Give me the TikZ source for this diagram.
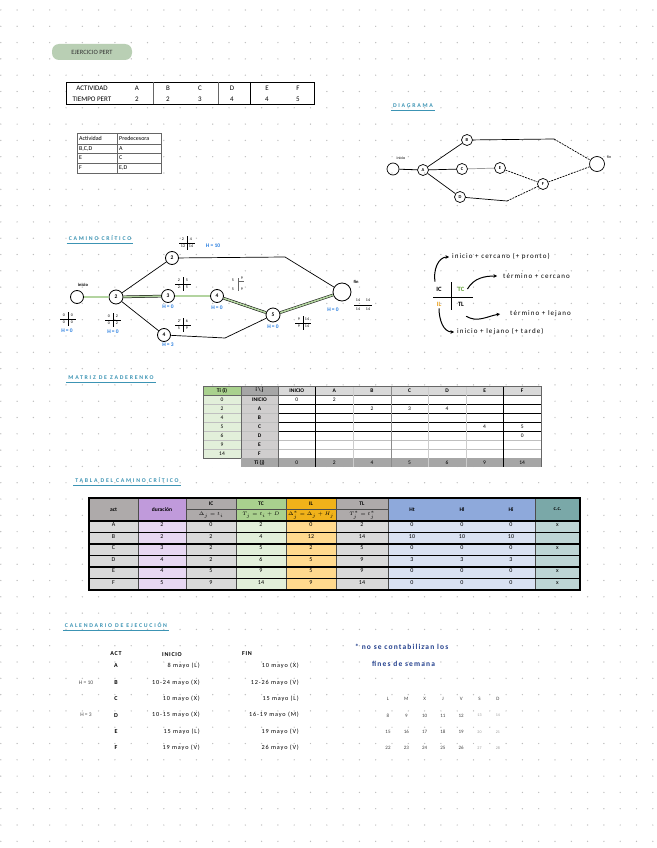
\documentclass[tikz,border=0pt]{standalone}
\usepackage{fontspec}
\setmainfont{Carlito}
\usetikzlibrary{positioning,arrows.meta,calc}

\definecolor{dotgray}{HTML}{BDBDBD}
\definecolor{pillgreen}{HTML}{B9CFB4}
\definecolor{headblue}{HTML}{3C94B4}
\definecolor{hblue}{HTML}{2A7FE0}
\definecolor{critgreen}{HTML}{B3D4A0}
\definecolor{tcgreen}{HTML}{5E9E32}
\definecolor{ilorange}{HTML}{E8A020}
\definecolor{noteblue}{HTML}{23408E}
\definecolor{zgreenh}{HTML}{A9D18E}
\definecolor{zgreenl}{HTML}{E2EFDA}
\definecolor{zgreyh}{HTML}{A6A6A6}
\definecolor{zgreyl}{HTML}{D0CECE}
\definecolor{zhead}{HTML}{D9D9D9}
\definecolor{actg}{HTML}{AEAAAA}
\definecolor{actl}{HTML}{D9D9D9}
\definecolor{durp}{HTML}{C09ADB}
\definecolor{durl}{HTML}{E7D7F2}
\definecolor{tcg}{HTML}{A9D08E}
\definecolor{tcl}{HTML}{E2EFDA}
\definecolor{ilo}{HTML}{F0B21A}
\definecolor{ill}{HTML}{FFD98E}
\definecolor{hbl}{HTML}{8EA9DB}
\definecolor{hbll}{HTML}{D9E1F2}
\definecolor{ccg}{HTML}{7AA8A8}
\definecolor{ccl}{HTML}{BDD5D5}

% heading with underline
\newcommand{\notehead}[3]{%
  \node[heading] (#1) at (#2) {#3};
  \draw[headblue, line width=0.8pt] ([xshift=-2pt,yshift=-2.5pt]#1.south west) -- ([xshift=2pt,yshift=-2.5pt]#1.south east);}

% IC TC / IL TL cross
\newcommand{\pertcross}[5]{%
  \begin{scope}[shift={(#1)}]
    \draw[line width=0.7pt] (-8,0) -- (8,0) (0,-7) -- (0,7);
    \node[crosstxt] at (-4,-3.6) {#2}; \node[crosstxt] at (4,-3.6) {#3};
    \node[crosstxt] at (-4,3.6) {#4}; \node[crosstxt] at (4,3.6) {#5};
  \end{scope}}

\begin{document}
\begin{tikzpicture}[x=1pt,y=-1pt,
    every node/.style={inner sep=0pt},
    heading/.style={text=headblue, font=\fontsize{5.8}{6}\selectfont\bfseries\addfontfeature{LetterSpace=30}},
    tabtxt/.style={font=\fontsize{6}{7}\selectfont},
    bigtab/.style={font=\fontsize{7}{8}\selectfont},
    hand/.style={font=\fontsize{7}{8}\selectfont\addfontfeature{LetterSpace=15}},
    caltxt/.style={font=\fontsize{6.2}{7}\selectfont\addfontfeature{LetterSpace=14}},
    dnode/.style={circle, draw, line width=0.7pt, minimum size=11pt, font=\fontsize{4.5}{5}\selectfont\bfseries},
    cnode/.style={circle, draw, line width=0.8pt, fill=white, minimum size=14pt, font=\fontsize{5.5}{6}\selectfont\bfseries},
    crosstxt/.style={font=\fontsize{4}{4.5}\selectfont},
    hlab/.style={text=hblue, font=\fontsize{5.5}{6}\selectfont\bfseries},
    crit/.style={draw=black, line width=0.5pt, double=critgreen, double distance=1.6pt},
    legarrow/.style={-{Stealth[length=3.5pt,width=3.5pt]}, line width=1pt},
    mini/.style={font=\fontsize{5}{6}\selectfont, text=black!75}]

\useasboundingbox (0,0) rectangle (656,848);
\fill[white] (0,0) rectangle (656,848);
% dotted page
\foreach \i in {0,...,40}
  \foreach \j in {0,...,51}
    \fill[dotgray] (0.8+16.3*\i,10+16.3*\j) circle (0.7);

% title
\node[fill=pillgreen, rounded corners=7pt, minimum width=80pt, minimum height=16pt,
  font=\fontsize{6.5}{7}\selectfont, text=black!80] (title) at (92,52) {EJERCICIO PERT};

% times table
\fill[white] (66,82) rectangle (314,104);
\draw[line width=0.9pt] (66,82) rectangle (314,104);
\draw[black!60] (153,82) -- (153,104) (218,82) -- (218,104);
\draw[line width=0.9pt] (250,82) -- (250,104);
\node[bigtab] (t-h1) at (92,88) {ACTIVIDAD};
\node[bigtab] (t-h2) at (92,99) {TIEMPO PERT};
\foreach \x/\a/\t [count=\k] in {137/A/2, 168/B/2, 200/C/3, 232/D/4, 267/E/4, 298/F/5} {
  \node[bigtab] (t-a\k) at (\x,88) {\a};
  \node[bigtab] (t-t\k) at (\x,99) {\t};
}

% predecessors table
\fill[white] (77,133) rectangle (161,173);
\draw[black!70, line width=0.9pt] (77,133) -- (161,133);
\draw[black!60] (77,133) rectangle (161,173) (117,133) -- (117,173)
  (77,144) -- (161,144) (77,153) -- (161,153) (77,163) -- (161,163);
\foreach \y/\a/\p [count=\k] in {138.5/Actividad/Predecesora, 148.5/{B,C,D}/A, 158/E/C, 168/F/{E,D}} {
  \node[tabtxt, anchor=west] (p-a\k) at (79,\y) {\a};
  \node[tabtxt, anchor=west] (p-p\k) at (119,\y) {\p};
}

% diagrama
\notehead{hdia}{413,106}{DIAGRAMA}
\node[dnode, minimum size=12pt] (dini) at (393,169) {};
\node[tabtxt, font=\fontsize{4}{5}\selectfont] (dinil) at (401,158) {inicio};
\node[dnode] (dA) at (423,170) {A};
\node[dnode] (dB) at (467,140) {B};
\node[dnode] (dC) at (462,169) {C};
\node[dnode] (dE) at (500,168) {E};
\node[dnode] (dF) at (543,184) {F};
\node[dnode] (dD) at (460,197) {D};
\node[dnode, minimum size=15pt] (dfin) at (597,164) {};
\node[tabtxt, font=\fontsize{4}{5}\selectfont] (dfinl) at (609,157) {fin};
\coordinate (dkB) at (554,139);
\coordinate (dkD) at (507,201);
\draw[line width=0.8pt] (dini) -- (dA);
\draw[line width=0.7pt] (dA) -- (dB) (dA) -- (dC) (dA) -- (dD) (dB) -- (dkB) (dD) -- (dkD);
\draw[black!40, line width=0.7pt] (dC) -- (dE);
\draw[line width=0.7pt, dashed, dash pattern=on 2pt off 1pt] (dkB) -- (dfin) (dE) -- (dF) (dkD) -- (dF) (dF) -- (dfin);

% camino critico
\notehead{hcc}{100,238}{CAMINO CRÍTICO}
\node[cnode, minimum size=13pt] (ini) at (77,297) {};
\node[hlab, text=black, font=\fontsize{4.5}{5}\selectfont\bfseries] (inil) at (83,285) {inicio};
\node[cnode] (n1) at (116,297) {2};
\node[cnode, minimum size=13pt] (n2) at (172,258) {2};
\node[cnode, minimum size=13pt] (n3) at (168,296) {3};
\node[cnode, minimum size=13pt] (n4) at (217,296) {4};
\node[cnode] (n5) at (273,315) {5};
\node[cnode, minimum size=13pt] (n6) at (164,335) {4};
\node[cnode, minimum size=18pt] (fin) at (342,292) {};
\node[hlab, text=black, font=\fontsize{4.5}{5}\selectfont\bfseries] (finl) at (356,282) {fin};
\coordinate (k2) at (285,257);
\coordinate (k6) at (225,338);
\draw[line width=0.7pt] (n1) -- (n2) (n2) -- (k2) -- (fin) (n1) -- (n6) (n6) -- (k6) -- (n5);
\draw[crit] (ini) -- (n1);
\draw[crit] (n1) -- (n3);
\draw[crit] (n3) -- (n4);
\draw[crit] (n4) -- (n5);
\draw[crit] (n5) -- (fin);

\pertcross{68,319}{0}{0}{0}{0}
\pertcross{113,320}{0}{2}{0}{2}
\pertcross{187,243}{2}{4}{12}{14}
\pertcross{183,284}{2}{5}{2}{5}
\pertcross{183,325}{2}{6}{5}{9}
\pertcross{303,323}{9}{14}{9}{14}
% E cross, lighter
\draw[black!60, line width=0.5pt] (238,278) -- (238,291) (238,281) -- (244,281);
\node[crosstxt] (e-ic) at (233,280) {5};
\node[crosstxt] (e-tc) at (242,278) {9};
\node[crosstxt] (e-il) at (233,289) {5};
\node[crosstxt] (e-tl) at (242,289) {9};
% fin cross
\draw[line width=0.6pt] (354,305) -- (372,305);
\node[crosstxt] (f-ic) at (358,300.5) {14};
\node[crosstxt] (f-tc) at (368,300.5) {14};
\node[crosstxt] (f-il) at (358,309.5) {14};
\node[crosstxt] (f-tl) at (368,309.5) {14};

\node[hlab] (h2) at (213,246) {H = 10};
\node[hlab] (hini) at (67,331) {H = 0};
\node[hlab] (h1) at (113,332) {H = 0};
\node[hlab] (h3) at (168,307) {H = 0};
\node[hlab] (h4) at (217,308) {H = 0};
\node[hlab] (h5) at (273,327) {H = 0};
\node[hlab] (hfin) at (333,310) {H = 0};
\node[hlab] (h6) at (168,345) {H = 3};

% legend
\draw[line width=0.9pt] (451,282) -- (451,310) (433,297) -- (473,297);
\node[hand, font=\fontsize{6.5}{7}\selectfont\bfseries] (lic) at (439,289) {IC};
\node[hand, font=\fontsize{6.5}{7}\selectfont\bfseries, text=tcgreen] (ltc) at (461,289) {TC};
\node[hand, font=\fontsize{6.5}{7}\selectfont\bfseries, text=ilorange] (lil) at (439,304) {IL};
\node[hand, font=\fontsize{6.5}{7}\selectfont\bfseries] (ltl) at (461,304) {TL};
\node[hand, anchor=west] (lg1) at (452,257) {inicio + cercano (+ pronto)};
\node[hand, anchor=west] (lg2) at (503,276) {término + cercano};
\node[hand, anchor=west] (lg3) at (510,314) {término + lejano};
\node[hand, anchor=west] (lg4) at (457,332) {inicio + lejano (+ tarde)};
\draw[legarrow] ([shift={(-4,-5)}]lic.north) to[out=100,in=180] ([xshift=-3pt]lg1.west);
\draw[legarrow] ([shift={(3,0)}]ltc.east) to[out=60,in=180] ([xshift=-6pt]lg2.west);
\draw[legarrow] ([shift={(2,10)}]ltl.south east) to[out=-30,in=190] ([xshift=-10pt]lg3.west);
\draw[legarrow] ([shift={(0,2)}]lil.south) to[out=-90,in=180] ([xshift=-3pt]lg4.west);

% matriz de zaderenko
\notehead{hmz}{111,378}{MATRIZ DE ZADERENKO}
\fill[white] (203,386) rectangle (541,467);
\fill[zgreenh] (203,386) rectangle (241,395);
\fill[zgreyh] (241,386) rectangle (278,395);
\fill[zhead] (278,386) rectangle (541,395);
\fill[zgreenl] (203,395) rectangle (241,458);
\fill[zgreyl] (241,395) rectangle (278,458);
\fill[zgreyh] (241,458) rectangle (541,467);
\foreach \r in {1,...,6}
  \draw[black!25] (203,395+9*\r) -- (541,395+9*\r);
\foreach \r in {1,...,4}
  \draw[line width=1pt] (278,395+9*\r) -- (541,395+9*\r);
\draw[black!60] (203,395) -- (541,395);
\draw[black!60] (241,386) -- (241,458) (278,386) -- (278,467);
\foreach \c in {2,4,5,6}
  \draw[black!20] (278+37.57*\c,386) -- (278+37.57*\c,467);
\draw[black!45] (390.7,386) -- (390.7,467);
\draw[line width=1pt] (315.6,386) -- (315.6,467) (503,386) -- (503,467);
\draw[black!60] (203,386) -- (541,386) (203,386) -- (203,458) -- (241,458) (541,386) -- (541,467);
\node[tabtxt, font=\fontsize{5.5}{6}\selectfont\bfseries] (z-h0) at (222,390.5) {Ti (i)};
\node[tabtxt, font=\fontsize{5.5}{6}\selectfont\bfseries] (z-h00) at (259.5,390.5) {i \textbackslash{} j};
\foreach \a [count=\c] in {INICIO,A,B,C,D,E,F}
  \node[tabtxt, font=\fontsize{5.5}{6}\selectfont\bfseries] (z-h\c) at (278+37.57*\c-18.8,390.5) {\a};
\foreach \t/\a [count=\r] in {0/INICIO,2/A,4/B,5/C,6/D,9/E,14/F} {
  \node[tabtxt, font=\fontsize{5.5}{6}\selectfont] (z-t\r) at (222,399.5+9*\r-9) {\t};
  \node[tabtxt, font=\fontsize{5.5}{6}\selectfont\bfseries] (z-a\r) at (259.5,399.5+9*\r-9) {\a};
}
\node[tabtxt, font=\fontsize{5.5}{6}\selectfont\bfseries] (z-ti) at (259.5,462.5) {Ti (j)};
\foreach \v [count=\c] in {0,2,4,5,6,9,14}
  \node[tabtxt, font=\fontsize{5.5}{6}\selectfont] (z-l\c) at (278+37.57*\c-18.8,462.5) {\v};
\foreach \r/\c/\v in {1/1/0, 1/2/2, 2/3/2, 2/4/3, 2/5/4, 4/6/4, 4/7/5, 5/7/0}
  \node[tabtxt, font=\fontsize{5.5}{6}\selectfont] (z-\r-\c) at (278+37.57*\c-18.8,399.5+9*\r-9) {\v};

% tabla del camino critico
\notehead{htc}{127,480}{TABLA DEL CAMINO CRÍTICO}
\foreach \xa/\xb/\hc/\bc in {89/138/actg/actl, 138/186/durp/durl, 186/236/actg/actl,
    236/286/tcg/tcl, 286/336/ilo/ill, 336/388/actg/actl, 388/535/hbl/hbll, 535/580/ccg/ccl} {
  \fill[\hc] (\xa,498) rectangle (\xb,521);
  \fill[\bc] (\xa,521) rectangle (\xb,590);
}
\foreach \x in {138,186,236,286,336,388,535}
  \draw[black!70, line width=0.6pt] (\x,498) -- (\x,590);
\draw[black!70, line width=0.6pt] (186,509.5) -- (388,509.5);
\foreach \r in {0,...,5}
  \draw[line width=1.1pt] (89,521+11.5*\r) -- (580,521+11.5*\r);
\draw[line width=1.1pt] (89,498) rectangle (580,590);
\foreach \x/\t [count=\k] in {113.5/act, 162/duración, 412/Ht, 462/Hl, 511/Hi, 557.5/c.c.}
  \node[tabtxt, font=\fontsize{5.5}{6}\selectfont\bfseries] (c-h\k) at (\x,509.5) {\t};
\foreach \x/\t/\f [count=\k] in {211/IC/{$\Delta_j = t_i$}, 261/TC/{$T_j = t_i + D$},
    311/IL/{$\Delta^*_j = \Delta_j + H_j$}, 362/TL/{$T^*_j = t^*_j$}} {
  \node[tabtxt, font=\fontsize{5.5}{6}\selectfont\bfseries] (c-u\k) at (\x,504) {\t};
  \node[tabtxt, font=\fontsize{5}{6}\selectfont\bfseries] (c-f\k) at (\x,515.5) {\f};
}
\foreach \a/\d/\ic/\tc/\il/\tl/\ht/\hl/\hi/\cc [count=\r] in {
    A/2/0/2/0/2/0/0/0/x, B/2/2/4/12/14/10/10/10/{},
    C/3/2/5/2/5/0/0/0/x, D/4/2/6/5/9/3/3/3/{},
    E/4/5/9/5/9/0/0/0/x, F/5/9/14/9/14/0/0/0/x} {
  \foreach \x/\v [count=\c] in {113.5/\a, 162/\d, 211/\ic, 261/\tc, 311/\il, 362/\tl,
      412/\ht, 462/\hl, 511/\hi, 557.5/\cc}
    \node[tabtxt] (c-\r-\c) at (\x,521+11.5*\r-5.75) {\v};
}

% calendario de ejecucion
\notehead{hcal}{116,625}{CALENDARIO DE EJECUCIÓN}
\node[caltxt, font=\fontsize{6}{7}\selectfont\bfseries\addfontfeature{LetterSpace=12}] (k-h1) at (116,654) {ACT};
\node[caltxt, font=\fontsize{6}{7}\selectfont\bfseries\addfontfeature{LetterSpace=12}] (k-h2) at (172,655) {INICIO};
\node[caltxt, font=\fontsize{6}{7}\selectfont\bfseries\addfontfeature{LetterSpace=12}] (k-h3) at (247,654) {FIN};
\foreach \a/\i/\f [count=\r] in {A/8 mayo (L)/10 mayo (X), B/10-24 mayo (X)/12-26 mayo (V),
    C/10 mayo (X)/15 mayo (L), D/10-15 mayo (X)/16-19 mayo (M),
    E/15 mayo (L)/19 mayo (V), F/19 mayo (V)/26 mayo (V)} {
  \node[caltxt, font=\fontsize{6}{7}\selectfont\bfseries] (k-a\r) at (116,666+16.4*\r-16.4) {\a};
  \node[caltxt, anchor=east] (k-i\r) at (200,666+16.4*\r-16.4) {\i};
  \node[caltxt, anchor=east] (k-f\r) at (299,666+16.4*\r-16.4) {\f};
}
\node[caltxt, font=\fontsize{5.5}{6}\selectfont, text=black!70] (k-nb) at (86,682.4) {H = 10};
\node[caltxt, font=\fontsize{5.5}{6}\selectfont, text=black!70] (k-nd) at (86,715.2) {H = 3};

% nota
\node[hand, anchor=west, text=noteblue, font=\fontsize{7.5}{8}\selectfont\bfseries\addfontfeature{LetterSpace=15}] (nota1) at (355,647) {* no se contabilizan los};
\node[hand, anchor=west, text=noteblue, font=\fontsize{7.5}{8}\selectfont\bfseries\addfontfeature{LetterSpace=15}] (nota2) at (372,664) {fines de semana};
\foreach \d [count=\c] in {L,M,X,J,V,S,D}
  \node[mini] (m-0-\c) at (388+18.3*\c-18.3,699) {\d};
\foreach \w in {1,2,3} {
  \foreach \c in {1,...,7} {
    \pgfmathtruncatemacro{\dd}{7*\w+\c}
    \ifnum\c>5
      \node[mini, text=black!40, font=\fontsize{4}{5}\selectfont] (m-\w-\c) at (388+18.3*\c-18.3,699+16.4*\w) {\dd};
    \else
      \node[mini] (m-\w-\c) at (388+18.3*\c-18.3,699+16.4*\w) {\dd};
    \fi
  }
}
\end{tikzpicture}
\end{document}
